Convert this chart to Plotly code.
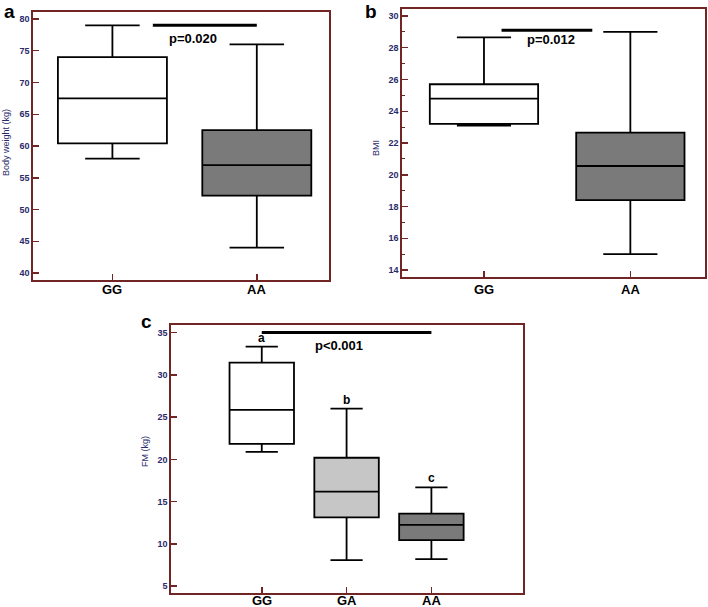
import plotly.graph_objects as go

# ---------------- data ----------------
a_categories = ["GG", "AA"]
a_lower = [58.0, 44.0]
a_q1 = [60.4, 52.2]
a_median = [67.5, 57.0]
a_q3 = [74.0, 62.5]
a_upper = [79.0, 76.0]

b_categories = ["GG", "AA"]
b_lower = [23.1, 15.0]
b_q1 = [23.2, 18.4]
b_median = [24.8, 20.55]
b_q3 = [25.7, 22.65]
b_upper = [28.65, 29.0]

c_categories = ["GG", "GA", "AA"]
c_lower = [20.9, 8.1, 8.2]
c_q1 = [21.85, 13.15, 10.45]
c_median = [25.85, 16.2, 12.25]
c_q3 = [31.45, 20.2, 13.6]
c_upper = [33.35, 26.0, 16.7]
c_letters = ["a", "b", "c"]

a_ticks = [40, 45, 50, 55, 60, 65, 70, 75, 80]
b_ticks = [14, 16, 18, 20, 22, 24, 26, 28, 30]
c_ticks = [5, 10, 15, 20, 25, 30, 35]

a_pvalue = "p=0.020"
b_pvalue = "p=0.012"
c_pvalue = "p<0.001"

# ---------------- style ----------------
FONT = "Liberation Sans"
FRAME = "#722525"
NAVY = "#2a2a6a"
fills = {"GG": "#ffffff", "GA": "#c6c6c6", "AA": "#7a7a7a"}

W, H = 708, 607


def dom_x(x0, x1):
    return [x0 / W, x1 / W]


def dom_y(y0, y1):
    return [1 - y1 / H, 1 - y0 / H]


fig = go.Figure()

panels = [
    ("x", "y", a_categories, a_lower, a_q1, a_median, a_q3, a_upper, 0.755, 289),
    ("x2", "y2", b_categories, b_lower, b_q1, b_median, b_q3, b_upper, 0.74, 289),
    ("x3", "y3", c_categories, c_lower, c_q1, c_median, c_q3, c_upper, 0.76, 600),
]
for xa, ya, cats, lo, q1, med, q3, up, bw, label_y in panels:
    for i, cat in enumerate(cats):
        fig.add_trace(go.Box(
            x=[cat], q1=[q1[i]], median=[med[i]], q3=[q3[i]],
            lowerfence=[lo[i]], upperfence=[up[i]],
            fillcolor=fills[cat], line=dict(color="black", width=1.8),
            width=bw, whiskerwidth=0.5, boxpoints=False,
            xaxis=xa, yaxis=ya, showlegend=False, hoverinfo="skip",
        ))
        # category label (placed as annotation to sit close under the frame)
        fig.add_annotation(xref=xa, yref="paper", x=cat, y=1 - label_y / H, text=cat,
                           showarrow=False, yanchor="middle",
                           font=dict(family=FONT, size=13, color="black", weight="bold"))

common_x = dict(
    type="category", showline=True, mirror=True, linecolor=FRAME, linewidth=1.6,
    ticks="inside", ticklen=6, tickwidth=1.5, tickcolor=FRAME,
    showticklabels=False,
    showgrid=False, zeroline=False, fixedrange=True,
)
common_y = dict(
    showline=True, mirror=True, linecolor=FRAME, linewidth=1.6,
    ticks="inside", ticklen=6, tickwidth=1.5, tickcolor=FRAME,
    tickfont=dict(family=FONT, size=9, color=NAVY, weight="bold"),
    showgrid=False, zeroline=False, fixedrange=True,
)

fig.update_layout(
    width=W, height=H, margin=dict(l=0, r=0, t=0, b=0),
    paper_bgcolor="white", plot_bgcolor="white", boxmode="overlay",
    font=dict(family=FONT),
    xaxis=dict(common_x, domain=dom_x(33, 329), range=[-0.55, 1.5],
               categoryarray=a_categories, anchor="y"),
    yaxis=dict(common_y, domain=dom_y(12, 280), range=[38.9, 81.1],
               tickvals=a_ticks, anchor="x"),
    xaxis2=dict(common_x, domain=dom_x(402, 705), range=[-0.56, 1.51],
                categoryarray=b_categories, anchor="y2"),
    yaxis2=dict(common_y, domain=dom_y(9, 277), range=[13.56, 30.44],
                tickvals=b_ticks, anchor="x2",
                minor=dict(ticks="inside", ticklen=3, dtick=1, tickcolor=FRAME, tickwidth=1.2)),
    xaxis3=dict(common_x, domain=dom_x(171, 523), range=[-1.07, 3.08],
                categoryarray=c_categories, anchor="y3"),
    yaxis3=dict(common_y, domain=dom_y(325, 593), range=[4.2, 35.9],
                tickvals=c_ticks, anchor="x3"),
)

# significance bars
sig = [
    ("x", "y", 0.28, 1.0, 79.0, a_pvalue, 0.56, 76.9),
    ("x2", "y2", 0.12, 0.74, 29.1, b_pvalue, 0.455, 28.5),
    ("x3", "y3", 0.0, 2.0, 35.0, c_pvalue, 0.91, 33.45),
]
for xa, ya, x0, x1, yv, txt, tx, ty in sig:
    fig.add_shape(type="line", xref=xa, yref=ya, x0=x0, x1=x1, y0=yv, y1=yv,
                  line=dict(color="black", width=3))
    fig.add_annotation(xref=xa, yref=ya, x=tx, y=ty, text=txt, showarrow=False,
                       font=dict(family=FONT, size=13, color="black", weight="bold"))

# group letters in panel c
for i, cat in enumerate(c_categories):
    fig.add_annotation(xref="x3", yref="y3", x=cat, y=c_upper[i], yshift=9,
                       text=c_letters[i], showarrow=False,
                       font=dict(family=FONT, size=12, color="black", weight="bold"))

# panel letters (top edge of the text box)
for txt, px, py in [("a", 9, 0), ("b", 371, 0), ("c", 146, 310)]:
    fig.add_annotation(xref="paper", yref="paper", x=px / W, y=1 - py / H, text=txt,
                       showarrow=False, xanchor="center", yanchor="top", borderpad=0,
                       font=dict(family=FONT, size=19, color="black", weight="bold"))

# y-axis titles
for txt, px, py in [("Body weight (kg)", 6, 143), ("BMI", 376, 148), ("FM (kg)", 145, 452)]:
    fig.add_annotation(xref="paper", yref="paper", x=px / W, y=1 - py / H, text=txt,
                       showarrow=False, textangle=-90, xanchor="center", yanchor="middle",
                       font=dict(family=FONT, size=9, color=NAVY))

# remove the default page margin so the 708x607 figure fills the window exactly
fig.write_html(
    "out.html",
    config={"displayModeBar": False, "staticPlot": True},
    post_script="document.body.style.margin='0';document.body.style.overflow='hidden';",
)
